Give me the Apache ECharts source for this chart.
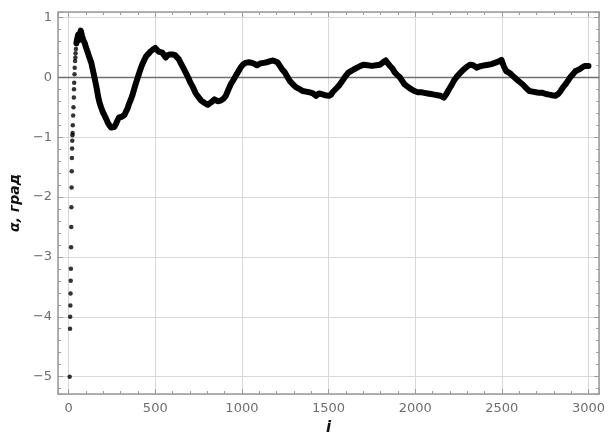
<!DOCTYPE html>
<html>
<head>
<meta charset="utf-8">
<script src="https://cdn.jsdelivr.net/npm/echarts@6/dist/echarts.min.js"></script>
<style>
html,body{margin:0;padding:0;background:#fff;}
#chart{width:608px;height:441px;}
</style>
</head>
<body>
<div id="chart"></div>
<script>
// Early, well-separated points (i, alpha)
const dotsI = [6,8,9,10,11,12,13,14,15,16,17,18,19,20,21,22,23,24,26,28,30,31,32,34,35,37,39,40,42,44];
const dotsA = [-5.0,-4.2,-4.0,-3.81,-3.61,-3.40,-3.20,-2.84,-2.50,-2.17,-1.84,-1.57,-1.35,-1.19,-1.06,-0.97,-0.93,-0.80,-0.64,-0.50,-0.34,-0.20,-0.09,0.05,0.16,0.27,0.33,0.40,0.47,0.55];

// Dense part of the record (points overlap into a thick trace)
const lineI = [45,50,55,60,65,70,74,78,85,93,100,111,121,131,140,149,156,163,170,178,187,197,206,216,225,235,245,253,263,273,282,291,300,307,314,322,330,340,348,358,367,376,386,395,405,414,424,435,447,460,472,485,500,510,519,530,541,550,560,572,585,600,614,625,636,648,661,675,689,703,718,732,746,765,785,803,822,841,860,878,893,907,920,935,950,964,978,992,1006,1020,1040,1059,1075,1087,1105,1125,1145,1163,1180,1191,1205,1219,1233,1248,1262,1276,1295,1314,1333,1352,1370,1390,1410,1428,1445,1456,1480,1503,1515,1523,1540,1560,1580,1598,1612,1627,1645,1665,1685,1702,1725,1750,1775,1797,1815,1830,1840,1854,1868,1882,1896,1911,1925,1939,1958,1977,1996,2015,2035,2053,2072,2091,2110,2128,2147,2166,2180,2195,2210,2223,2238,2252,2266,2280,2300,2318,2335,2356,2370,2384,2403,2422,2440,2460,2480,2498,2505,2512,2526,2540,2554,2568,2583,2600,2621,2640,2659,2678,2697,2716,2735,2755,2773,2790,2810,2825,2839,2853,2867,2881,2895,2910,2924,2938,2952,2966,2980,2990,3000];
const lineA = [0.57,0.65,0.71,0.62,0.72,0.78,0.76,0.68,0.62,0.57,0.50,0.41,0.32,0.24,0.12,0.0,-0.10,-0.20,-0.32,-0.42,-0.50,-0.58,-0.63,-0.69,-0.75,-0.80,-0.84,-0.85,-0.83,-0.78,-0.72,-0.67,-0.64,-0.66,-0.64,-0.63,-0.58,-0.52,-0.45,-0.38,-0.31,-0.22,-0.12,-0.04,0.05,0.13,0.21,0.28,0.35,0.39,0.43,0.46,0.49,0.46,0.43,0.43,0.41,0.37,0.33,0.37,0.38,0.38,0.37,0.34,0.30,0.23,0.16,0.08,0.0,-0.09,-0.17,-0.26,-0.32,-0.39,-0.43,-0.46,-0.42,-0.37,-0.40,-0.39,-0.36,-0.31,-0.22,-0.12,-0.05,0.02,0.09,0.16,0.21,0.24,0.25,0.24,0.22,0.20,0.23,0.24,0.25,0.27,0.28,0.29,0.25,0.19,0.13,0.08,0.01,-0.06,-0.12,-0.17,-0.20,-0.23,-0.24,-0.25,-0.27,-0.31,-0.27,-0.28,-0.30,-0.31,-0.29,-0.25,-0.20,-0.14,-0.06,0.02,0.07,0.10,0.13,0.16,0.19,0.21,0.20,0.19,0.20,0.21,0.25,0.28,0.25,0.19,0.15,0.08,0.04,0.0,-0.06,-0.12,-0.16,-0.20,-0.23,-0.25,-0.25,-0.26,-0.27,-0.28,-0.29,-0.30,-0.31,-0.34,-0.28,-0.20,-0.13,-0.06,0.0,0.05,0.09,0.13,0.18,0.21,0.20,0.16,0.18,0.19,0.20,0.21,0.22,0.24,0.26,0.29,0.27,0.18,0.10,0.08,0.05,0.01,-0.03,-0.07,-0.12,-0.18,-0.23,-0.24,-0.25,-0.26,-0.26,-0.28,-0.29,-0.30,-0.31,-0.28,-0.23,-0.17,-0.12,-0.06,0.0,0.05,0.10,0.12,0.14,0.17,0.19,0.21,0.19];

const xMin = -61, xMax = 3062;
const yMin = -5.29, yMax = 1.09;

const frameColor = '#9a9a9a';
const labelColor = '#6e6e6e';

function fmt(v){
  return String(Math.round(v * 1000) / 1000).replace('-', '\u2212');
}

function axisCommon(showLabel){
  return {
    type: 'value',
    axisLine: {show: true, onZero: false, lineStyle: {color: frameColor, width: 1.5}},
    axisTick: {show: true, inside: true, length: 5, lineStyle: {color: frameColor, width: 1}},
    minorTick: {show: true, splitNumber: 5, length: 3, lineStyle: {color: frameColor, width: 1}},
    axisLabel: {show: showLabel, color: labelColor, fontFamily: 'DejaVu Sans', fontSize: 13,
                showMinLabel: false, showMaxLabel: false, formatter: fmt},
    splitLine: {show: false}
  };
}

const xBottom = Object.assign(axisCommon(true), {
  position: 'bottom', min: xMin, max: xMax, minInterval: 500, maxInterval: 500,
  splitLine: {show: true, lineStyle: {color: '#d9d9d9', width: 1}},
  name: 'i', nameLocation: 'middle', nameGap: 27,
  nameTextStyle: {fontFamily: 'DejaVu Sans', fontSize: 15, fontWeight: 'bold', fontStyle: 'italic', color: '#111'}
});
xBottom.axisLabel.margin = 8;
const xTop = Object.assign(axisCommon(false), {
  position: 'top', min: xMin, max: xMax, minInterval: 500, maxInterval: 500
});
const yLeft = Object.assign(axisCommon(true), {
  position: 'left', min: yMin, max: yMax, minInterval: 1, maxInterval: 1,
  splitLine: {show: true, lineStyle: {color: '#d9d9d9', width: 1}},
  name: 'α, град', nameLocation: 'middle', nameGap: 34, nameRotate: 90,
  nameTextStyle: {fontFamily: 'DejaVu Sans', fontSize: 14, fontWeight: 'bold', fontStyle: 'italic', color: '#111'}
});
yLeft.axisLabel.margin = 6;
const yRight = Object.assign(axisCommon(false), {
  position: 'right', min: yMin, max: yMax, minInterval: 1, maxInterval: 1
});

const chart = echarts.init(document.getElementById('chart'), null, {renderer: 'canvas'});
chart.setOption({
  animation: false,
  backgroundColor: '#fff',
  grid: {left: 58, right: 1, top: 12, bottom: 43, containLabel: false},
  xAxis: [xBottom, xTop],
  yAxis: [yLeft, yRight],
  series: [
    {
      type: 'line',
      xAxisIndex: 0, yAxisIndex: 0,
      data: lineI.map((v, k) => [v, lineA[k]]),
      showSymbol: false, symbol: 'none',
      lineStyle: {color: '#000', width: 6, cap: 'round', join: 'round'},
      markLine: {
        silent: true, symbol: 'none', label: {show: false},
        lineStyle: {color: '#6f6f6f', width: 1.3, type: 'solid'},
        data: [{yAxis: 0}],
        z: 2
      },
      z: 3
    },
    {
      type: 'scatter',
      xAxisIndex: 0, yAxisIndex: 0,
      data: dotsI.map((v, k) => [v, dotsA[k]]),
      symbol: 'circle', symbolSize: 4.5,
      itemStyle: {color: '#000'},
      z: 4
    }
  ]
});
</script>
</body>
</html>
